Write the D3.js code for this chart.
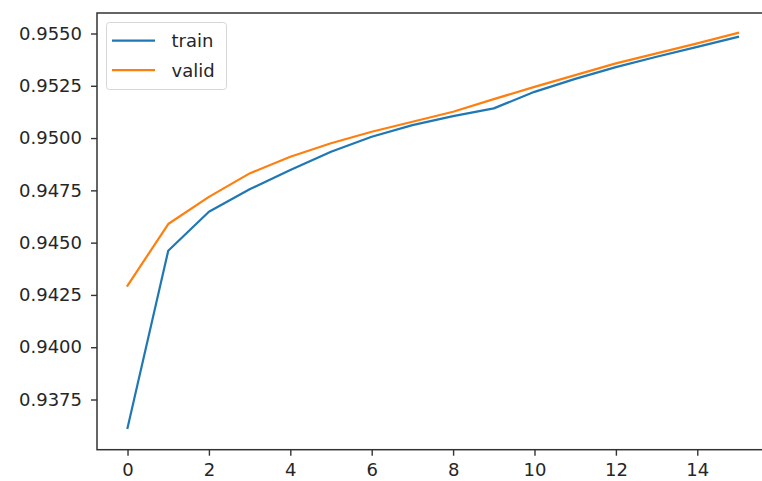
<!DOCTYPE html>
<html>
<head>
<meta charset="utf-8">
<script src="https://cdn.jsdelivr.net/npm/d3@7"></script>
<style>
  html, body { margin: 0; padding: 0; background: #fff; }
  svg { display: block; }
  text { font-family: "DejaVu Sans", sans-serif; }
</style>
</head>
<body>
<svg id="chart" width="762" height="481"></svg>
<script>
const epochs = [0, 1, 2, 3, 4, 5, 6, 7, 8, 9, 10, 11, 12, 13, 14, 15];
const trainAcc = [0.93614, 0.94461, 0.94648, 0.94755, 0.94847, 0.94935, 0.95006, 0.95062,
                  0.95105, 0.95142, 0.95221, 0.95283, 0.95339, 0.95389, 0.95436, 0.95484];
const validAcc = [0.94294, 0.94589, 0.94719, 0.94831, 0.94911, 0.94975, 0.95030, 0.95078,
                  0.95126, 0.95186, 0.95245, 0.95301, 0.95357, 0.95405, 0.95453, 0.95503];
const xTicks = [0, 2, 4, 6, 8, 10, 12, 14];
const yTicks = [0.9375, 0.9400, 0.9425, 0.9450, 0.9475, 0.9500, 0.9525, 0.9550];
const seriesNames = ["train", "valid"];
const seriesColors = ["#1f77b4", "#ff7f0e"];

const svg = d3.select("#chart");
const L = 97, R = 768.5, T = 13, B = 449.7;

const x = d3.scaleLinear().domain([-0.75, 15.75]).range([L, R]);
const y = d3.scaleLinear().domain([0.93510, 0.95598]).range([B, T]);

const fontSize = 18;
const textColor = "#262626";

// axes
const xAxis = svg.append("g").attr("transform", `translate(0,${B})`)
  .call(d3.axisBottom(x).tickValues(xTicks).tickFormat(d3.format("d")).tickSize(6).tickPadding(8));
const yAxis = svg.append("g").attr("transform", `translate(${L},0)`)
  .call(d3.axisLeft(y).tickValues(yTicks).tickFormat(d3.format(".4f")).tickSize(6).tickPadding(9));
[xAxis, yAxis].forEach(g => {
  g.select(".domain").remove();
  g.selectAll(".tick line").attr("stroke", "#333").attr("stroke-width", 1.4);
  g.selectAll(".tick text").attr("fill", textColor).style("font-size", fontSize + "px")
    .style("font-family", "'DejaVu Sans', sans-serif");
});

// lines
const line = d3.line().x((d, i) => x(epochs[i])).y(d => y(d));
[trainAcc, validAcc].forEach((s, k) => {
  svg.append("path").datum(s).attr("d", line)
    .attr("fill", "none").attr("stroke", seriesColors[k]).attr("stroke-width", 2.2)
    .attr("stroke-linejoin", "round").attr("stroke-linecap", "square");
});

// frame (spines)
svg.append("rect").attr("x", L).attr("y", T).attr("width", R - L).attr("height", B - T)
  .attr("fill", "none").attr("stroke", "#333").attr("stroke-width", 1.5);

// legend
const lg = svg.append("g");
lg.append("rect").attr("x", 106.5).attr("y", 22.5).attr("width", 120).attr("height", 67)
  .attr("rx", 3).attr("fill", "#fff").attr("fill-opacity", 0.8)
  .attr("stroke", "#d6d6d6").attr("stroke-width", 1);
seriesNames.forEach((name, k) => {
  const yy = 40.7 + k * 29.5;
  lg.append("line").attr("x1", 112).attr("x2", 155).attr("y1", yy).attr("y2", yy)
    .attr("stroke", seriesColors[k]).attr("stroke-width", 2.2);
  lg.append("text").attr("x", 171.5).attr("y", yy).attr("dy", "0.35em")
    .attr("fill", textColor).style("font-size", fontSize + "px").text(name);
});
</script>
</body>
</html>
